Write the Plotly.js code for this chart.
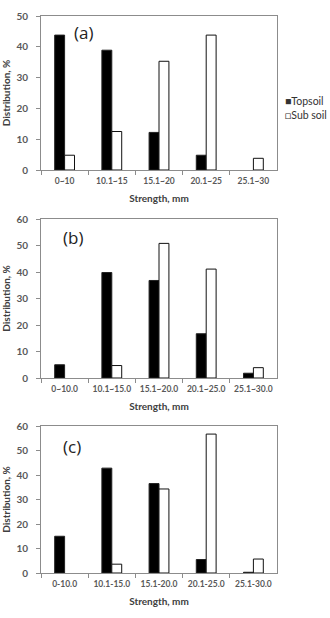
<!DOCTYPE html>
<html>
<head>
<meta charset="utf-8">
<script src="https://cdn.plot.ly/plotly-3.0.1.min.js"></script>
<style>
  html, body { margin: 0; padding: 0; background: #fff; }
  #chart { width: 330px; height: 618px; }
</style>
</head>
<body>
<div id="chart"></div>
<script>
// Strength class labels for each panel
const catsA = ["0~10", "10.1~15", "15.1~20", "20.1~25", "25.1~30"];
const catsB = ["0~10.0", "10.1~15.0", "15.1~20.0", "20.1~25.0", "25.1~30.0"];
const catsC = ["0-10.0", "10.1-15.0", "15.1-20.0", "20.1-25.0", "25.1-30.0"];

// Distribution (%) of topsoil and subsoil per strength class
const topsoilA = [43.8, 38.9, 12.2, 4.8, 0];
const subsoilA = [4.8, 12.5, 35.3, 43.8, 3.8];
const topsoilB = [5.0, 39.8, 36.8, 16.7, 1.8];
const subsoilB = [0, 4.7, 50.8, 41.1, 3.9];
const topsoilC = [15.0, 42.8, 36.5, 5.5, 0.3];
const subsoilC = [0, 3.6, 34.3, 56.7, 5.7];

const panelLabels = ["(a)", "(b)", "(c)"];
const seriesNames = ["Topsoil", "Sub soil"];

const W = 330, H = 618;
const fontFam = "Lato, 'Open Sans', sans-serif";
const grey = "#595959";

function fy(px) { return 1 - px / H; }
// no outline for empty classes
function outline(vals) { return vals.map(v => (v > 0 ? 1 : 0)); }

const panels = [
  { cats: catsA, top: topsoilA, sub: subsoilA, yTop: 16, yBot: 170, yMax: 50 },
  { cats: catsB, top: topsoilB, sub: subsoilB, yTop: 219, yBot: 378, yMax: 60 },
  { cats: catsC, top: topsoilC, sub: subsoilC, yTop: 426, yBot: 573, yMax: 60 }
];

const traces = [];
const layout = {
  width: W, height: H,
  margin: { l: 0, r: 0, t: 0, b: 0 },
  paper_bgcolor: "#fff", plot_bgcolor: "#fff",
  showlegend: false,
  barmode: "group",
  bargap: 0.58,
  bargroupgap: 0,
  font: { family: fontFam, color: grey },
  annotations: [],
  shapes: []
};

const xDom = [41 / W, 277 / W];

panels.forEach((p, i) => {
  const n = i === 0 ? "" : String(i + 1);
  const xa = "x" + n, ya = "y" + n;
  traces.push({
    type: "bar", name: seriesNames[0], x: p.cats, y: p.top,
    xaxis: xa, yaxis: ya,
    marker: { color: "#000", line: { color: "#222", width: outline(p.top) } },
    hoverinfo: "x+y+name"
  });
  traces.push({
    type: "bar", name: seriesNames[1], x: p.cats, y: p.sub,
    xaxis: xa, yaxis: ya,
    marker: { color: "#fff", line: { color: "#111", width: outline(p.sub) } },
    hoverinfo: "x+y+name"
  });

  layout["xaxis" + n] = {
    domain: xDom, anchor: ya, type: "category",
    showline: true, linecolor: "#8c8c8c", linewidth: 1, mirror: true,
    ticks: "outside", ticklen: 4, tickcolor: "#8c8c8c", tickson: "boundaries",
    tickangle: 0, ticklabelstandoff: 3,
    showgrid: false, zeroline: false,
    tickfont: { family: fontFam, size: 8.5, color: grey, weight: "bold" },
    title: { text: "Strength, mm", font: { family: fontFam, size: 10, color: "#404040", weight: "bold" }, standoff: 9 },
    fixedrange: true
  };
  layout["yaxis" + n] = {
    domain: [fy(p.yBot), fy(p.yTop)], anchor: xa,
    range: [0, p.yMax], dtick: 10,
    showline: true, linecolor: "#8c8c8c", linewidth: 1, mirror: true,
    ticks: "outside", ticklen: 4, tickcolor: "#8c8c8c",
    ticklabelstandoff: 6,
    showgrid: false, zeroline: false,
    tickfont: { family: fontFam, size: 10, color: grey, weight: "bold" },
    title: { text: "Distribution, %", font: { family: fontFam, size: 10, color: "#404040", weight: "bold" }, standoff: 4 },
    fixedrange: true
  };

  const labelPos = [[83, 33], [73, 237], [72, 446]][i];
  layout.annotations.push({
    xref: "paper", yref: "paper",
    x: labelPos[0] / W, y: fy(labelPos[1]),
    xanchor: "center", yanchor: "middle",
    text: panelLabels[i], showarrow: false,
    font: { family: "'Open Sans', Lato, sans-serif", size: 17, color: "#222" }
  });
});

// Legend for the top panel, drawn as a text block beside the plot area
layout.annotations.push({
  xref: "paper", yref: "paper",
  x: 283 / W, y: fy(108),
  xanchor: "left", yanchor: "middle", align: "left",
  text: "\u25A0" + seriesNames[0] + "<br>\u25A1" + seriesNames[1],
  showarrow: false,
  font: { family: fontFam, size: 10.5, color: "#333" }
});

Plotly.newPlot("chart", traces, layout, { displayModeBar: false, staticPlot: true });
</script>
</body>
</html>
